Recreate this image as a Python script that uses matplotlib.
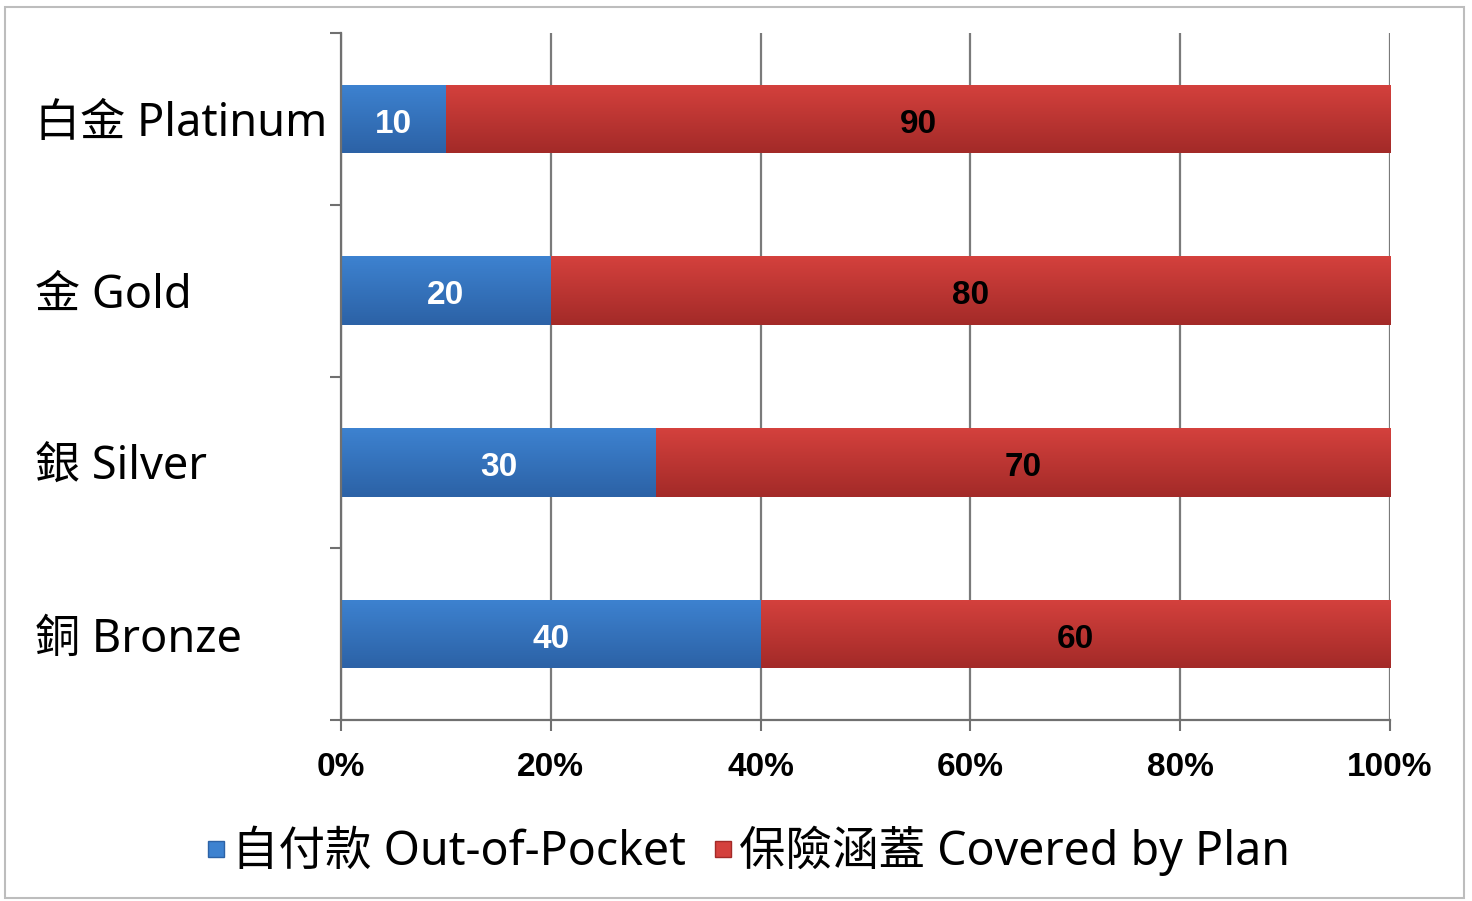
import numpy as np
import matplotlib.pyplot as plt
from matplotlib.colors import to_rgb
from matplotlib.lines import Line2D
from matplotlib.patches import Rectangle

plt.rcParams['font.family'] = ['Liberation Sans', 'Noto Sans CJK TC', 'DejaVu Sans']
LABEL_FONT = ['Noto Sans', 'Noto Sans CJK TC', 'DejaVu Sans']

categories = ['白金 Platinum', '金 Gold', '銀 Silver', '銅 Bronze']
out_of_pocket = [10, 20, 30, 40]
covered = [90, 80, 70, 60]
series_names = ['自付款 Out-of-Pocket', '保險涵蓋 Covered by Plan']
x_ticks = [0, 20, 40, 60, 80, 100]

BLUE_TOP, BLUE_BOT = '#3d82d0', '#2c62a6'
RED_TOP, RED_BOT = '#d4413d', '#a32a28'


def gradient_fill(ax, patch, top, bottom):
    x0, y0 = patch.get_x(), patch.get_y()
    w, h = patch.get_width(), patch.get_height()
    c1, c2 = np.array(to_rgb(top)), np.array(to_rgb(bottom))
    t = np.linspace(0, 1, 64)[:, None]
    img = (c1 * (1 - t) + c2 * t)[:, None, :]
    im = ax.imshow(img, extent=(x0, x0 + w, y0, y0 + h), origin='upper',
                   aspect='auto', zorder=2, interpolation='bilinear')
    im.set_clip_path(patch)


fig = plt.figure(figsize=(14.72, 9.01), dpi=100)
ax = fig.add_axes([341 / 1472, 1 - 720 / 901, 1049 / 1472, 687 / 901])

y = np.arange(len(categories))[::-1]
b1 = ax.barh(y, out_of_pocket, height=0.4, color=BLUE_BOT, zorder=2)
b2 = ax.barh(y, covered, left=out_of_pocket, height=0.4, color=RED_BOT, zorder=2)
for p in b1:
    gradient_fill(ax, p, BLUE_TOP, BLUE_BOT)
for p in b2:
    gradient_fill(ax, p, RED_TOP, RED_BOT)

for yi, a, b in zip(y, out_of_pocket, covered):
    ax.text(a / 2, yi - 0.01, str(a), ha='center', va='center_baseline', color='white',
            fontsize=24, fontweight='bold', zorder=3)
    ax.text(a + b / 2, yi - 0.01, str(b), ha='center', va='center_baseline', color='black',
            fontsize=24, fontweight='bold', zorder=3)

ax.set_xlim(0, 100)
ax.set_ylim(-0.5, len(categories) - 0.5)

ax.set_xticks(x_ticks)
ax.set_xticklabels([f'{v}%' for v in x_ticks], fontsize=24, fontweight='bold')
ax.tick_params(axis='x', length=8, width=1.5, color='#707070', pad=15)
ax.grid(axis='x', color='#7a7a7a', linewidth=1.6, zorder=0)
ax.set_axisbelow(True)

ax.set_yticks(np.arange(-0.5, len(categories), 1.0))
ax.set_yticklabels([])
ax.tick_params(axis='y', which='major', length=8, width=1.5, color='#707070')
ax.set_yticks(y, minor=True)
ax.set_yticklabels(categories, minor=True, ha='left', fontsize=32.5, family=LABEL_FONT)
ax.tick_params(axis='y', which='minor', length=0, pad=220)

for s in ['top', 'right']:
    ax.spines[s].set_visible(False)
for s in ['left', 'bottom']:
    ax.spines[s].set_color('#707070')
    ax.spines[s].set_linewidth(1.6)

handles = [Line2D([], [], marker='s', linestyle='none', markersize=11,
                  color=BLUE_TOP, markeredgecolor=BLUE_BOT),
           Line2D([], [], marker='s', linestyle='none', markersize=11,
                  color=RED_TOP, markeredgecolor=RED_BOT)]
fig.legend(handles, series_names, loc='center', bbox_to_anchor=(0.5085, 1 - 851 / 901),
           ncol=2, frameon=False, handlelength=0.4,
           handletextpad=0.15, columnspacing=0.6,
           prop={'family': LABEL_FONT, 'size': 33.5})

fig.patches.append(Rectangle((5 / 1472, 3 / 901), 1459 / 1472, 891 / 901,
                             transform=fig.transFigure, fill=False,
                             edgecolor='#bdbdbd', linewidth=1.5))

fig.savefig('out.png', dpi=100)
